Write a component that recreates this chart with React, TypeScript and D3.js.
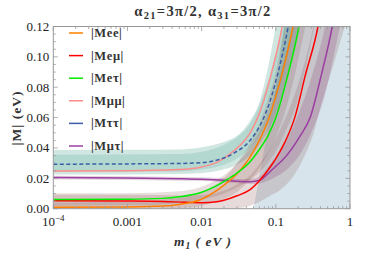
import * as React from "react";
import * as d3 from "d3";

type Pt = [number, number];
type Bd = [number, number, number];

// curves: [m1, |M|]
const meeLine: Pt[] = [[1e-4, 0.001], [1e-3, 0.0012], [0.003, 0.0018], [0.005, 0.0028], [0.01, 0.0062], [0.015, 0.011], [0.02, 0.0155], [0.03, 0.023], [0.045, 0.034], [0.06, 0.045], [0.08, 0.059], [0.1, 0.074], [0.12, 0.088], [0.17, 0.12], [0.2, 0.14]];
const memuLine: Pt[] = [[1e-4, 0.0053], [1e-3, 0.0051], [0.003, 0.0048], [0.006, 0.0042], [0.01, 0.004], [0.016, 0.0046], [0.02, 0.0056], [0.03, 0.0085], [0.045, 0.0125], [0.062, 0.0192], [0.08, 0.026], [0.1, 0.033], [0.13, 0.043], [0.18, 0.06], [0.25, 0.088], [0.37, 0.12], [0.45, 0.145]];
const metauLine: Pt[] = [[1e-4, 0.006], [1e-3, 0.0062], [0.003, 0.0068], [0.005, 0.0078], [0.01, 0.0108], [0.015, 0.0145], [0.02, 0.018], [0.03, 0.0235], [0.045, 0.031], [0.06, 0.039], [0.08, 0.049], [0.1, 0.06], [0.14, 0.085], [0.205, 0.12], [0.25, 0.145]];
const mmumuLine: Pt[] = [[1e-4, 0.0249], [1e-3, 0.025], [0.005, 0.0258], [0.01, 0.0275], [0.016, 0.0305], [0.027, 0.038], [0.045, 0.05], [0.057, 0.06], [0.085, 0.087], [0.122, 0.12], [0.15, 0.145]];
const mtautauLine: Pt[] = [[1e-4, 0.0293], [1e-3, 0.0295], [0.005, 0.0298], [0.01, 0.0303], [0.016, 0.032], [0.027, 0.0365], [0.045, 0.045], [0.066, 0.058], [0.08, 0.068], [0.1, 0.084], [0.147, 0.12], [0.18, 0.145]];
const mmutauLine: Pt[] = [[1e-4, 0.0205], [1e-3, 0.0203], [0.005, 0.0198], [0.01, 0.0194], [0.02, 0.0187], [0.03, 0.0181], [0.045, 0.0178], [0.062, 0.019], [0.08, 0.0235], [0.1, 0.028], [0.126, 0.0325], [0.21, 0.0475], [0.29, 0.06], [0.41, 0.088], [0.576, 0.12], [0.7, 0.145]];

// shaded ranges: [m1, low, high]
const tautauBand: Bd[] = [[1e-4, 0.0225, 0.0387], [1e-3, 0.0225, 0.0388], [0.005, 0.0228, 0.039], [0.01, 0.0235, 0.0405], [0.02, 0.026, 0.044], [0.03, 0.029, 0.048], [0.045, 0.035, 0.058], [0.06, 0.042, 0.07], [0.08, 0.052, 0.095], [0.1, 0.063, 0.12], [0.15, 0.09, 0.17], [0.2, 0.12, 0.22]];
const mumuBand: Bd[] = [[1e-4, 0.0243, 0.0355], [0.005, 0.0245, 0.036], [0.01, 0.0258, 0.0375], [0.02, 0.029, 0.042], [0.03, 0.033, 0.047], [0.045, 0.04, 0.056], [0.06, 0.048, 0.068], [0.08, 0.06, 0.085], [0.1, 0.072, 0.102], [0.125, 0.088, 0.12], [0.16, 0.11, 0.15], [0.18, 0.12, 0.17]];
const eeBand: Bd[] = [[1e-4, 0, 0.004], [1e-3, 0, 0.0045], [0.005, 0.0005, 0.007], [0.01, 0.002, 0.011], [0.02, 0.0065, 0.02], [0.03, 0.011, 0.03], [0.045, 0.019, 0.043], [0.06, 0.027, 0.056], [0.08, 0.037, 0.073], [0.1, 0.047, 0.09], [0.13, 0.062, 0.12], [0.25, 0.12, 0.2]];
const etauBand: Bd[] = [[1e-4, 0.002, 0.0101], [1e-3, 0.0022, 0.0102], [0.005, 0.0035, 0.0115], [0.01, 0.006, 0.0145], [0.02, 0.01, 0.022], [0.03, 0.014, 0.03], [0.045, 0.019, 0.04], [0.06, 0.024, 0.05], [0.08, 0.031, 0.064], [0.1, 0.038, 0.078], [0.15, 0.056, 0.11], [0.17, 0.062, 0.12], [0.33, 0.12, 0.21]];
const emuBand: Bd[] = [[1e-4, 0, 0.0092], [1e-3, 0, 0.0092], [0.005, 0, 0.0088], [0.01, 0, 0.009], [0.02, 0, 0.012], [0.03, 0.0003, 0.016], [0.045, 0.002, 0.022], [0.061, 0.0046, 0.03], [0.08, 0.008, 0.038], [0.114, 0.0123, 0.052], [0.17, 0.021, 0.072], [0.288, 0.043, 0.11], [0.32, 0.049, 0.12], [0.39, 0.065, 0.14], [0.6, 0.095, 0.2], [0.85, 0.12, 0.26]];
const mutauBand: Bd[] = [[1e-4, 0.0193, 0.0217], [0.01, 0.0182, 0.0207], [0.03, 0.0168, 0.0196], [0.045, 0.0163, 0.0195], [0.062, 0.0168, 0.0215], [0.08, 0.0185, 0.028], [0.1, 0.021, 0.034], [0.15, 0.027, 0.048], [0.2, 0.034, 0.062], [0.3, 0.05, 0.086], [0.46, 0.075, 0.12], [0.6, 0.1, 0.15], [0.73, 0.12, 0.18]];

// left boundary of the blue shaded region: [m1, |M|]
const blueEdge: Pt[] = [[0.05, 0], [0.07, 0.04], [0.1, 0.08], [0.13, 0.12]];

const legendLabels = ["|Mee|", "|Meμ|", "|Meτ|", "|Mμμ|", "|Mττ|", "|Mμτ|"];
const yTicks = [0, 0.02, 0.04, 0.06, 0.08, 0.1, 0.12];
const xTicks = [1e-4, 1e-3, 0.01, 0.1, 1];
const xTickLabels = ["10", "0.001", "0.01", "0.1", "1"];

const SERIF = "'Liberation Serif', 'Times New Roman', serif";

function drawChart(svgRef: React.RefObject<SVGSVGElement>) {
  const w = 374;
  const h = 254;
  const svg = d3.select(svgRef.current);
  svg.selectAll("*").remove();
  svg.attr("width", w).attr("height", h).style("position", "absolute").style("left", 0).style("top", 0);

  const x = d3.scaleLog().domain([1e-4, 1]).range([53.3, 350]);
  const y = d3.scaleLinear().domain([0, 0.12]).range([208.7, 26.5]);
  const [x0, x1] = x.range();
  const [y0, y1] = y.range();

  svg.append("defs").append("clipPath").attr("id", "plotclip")
    .append("rect").attr("x", x0).attr("y", y1).attr("width", x1 - x0).attr("height", y0 - y1);

  const plot = svg.append("g").attr("clip-path", "url(#plotclip)");

  const line = d3.line<Pt>()
    .x((d) => x(d[0]))
    .y((d) => y(d[1]));

  // blue region: edge, then along the top and right side of the frame
  const bluePts: Pt[] = [...blueEdge, [1, 0.12], [1, 0]];
  plot.append("path").attr("d", line(bluePts)! + "Z").attr("fill", "#d7e4ec");

  const area = d3.area<Bd>()
    .x((d) => x(d[0]))
    .y0((d) => y(d[1]))
    .y1((d) => y(d[2]))
    .curve(d3.curveMonotoneX);

  const bands = [
    { data: tautauBand, fill: "rgba(70,160,140,0.26)" },
    { data: mumuBand, fill: "rgba(70,160,140,0.2)" },
    { data: eeBand, fill: "rgba(140,90,85,0.2)" },
    { data: etauBand, fill: "rgba(140,90,85,0.2)" },
    { data: emuBand, fill: "rgba(140,90,85,0.22)" },
    { data: mutauBand, fill: "rgba(140,60,120,0.22)" },
  ];
  bands.forEach((b) => {
    plot.append("path").attr("d", area(b.data)!).attr("fill", b.fill);
  });

  const curve = d3.line<Pt>()
    .x((d) => x(d[0]))
    .y((d) => y(d[1]))
    .curve(d3.curveMonotoneX);

  const series = [
    { data: mmumuLine, color: "#ff8c8c", dash: null },
    { data: mtautauLine, color: "#3b5ca8", dash: "4,2.5" },
    { data: mmutauLine, color: "#9a3fa0", dash: null },
    { data: memuLine, color: "#ff0000", dash: null },
    { data: meeLine, color: "#ff8000", dash: null },
    { data: metauLine, color: "#00ee00", dash: null },
  ];
  series.forEach((s) => {
    plot.append("path").attr("d", curve(s.data)!)
      .attr("fill", "none").attr("stroke", s.color).attr("stroke-width", 1.5)
      .attr("stroke-dasharray", s.dash);
  });

  // legend
  const legendColors = ["#ff8000", "#ff0000", "#00ee00", "#ff8c8c", "#3b5ca8", "#9a3fa0"];
  const lg = svg.append("g");
  legendLabels.forEach((lab, i) => {
    const ly = 33 + i * 22.6;
    lg.append("line").attr("x1", 69).attr("x2", 83).attr("y1", ly).attr("y2", ly)
      .attr("stroke", legendColors[i]).attr("stroke-width", 1.5);
    lg.append("text").attr("x", 91).attr("y", ly + 4).text(lab)
      .attr("font-family", SERIF).attr("font-weight", "bold").attr("font-size", 12.5)
      .attr("letter-spacing", 0.6).attr("fill", "#333");
  });

  // frame and ticks
  svg.append("rect").attr("x", x0).attr("y", y1).attr("width", x1 - x0).attr("height", y0 - y1)
    .attr("fill", "none").attr("stroke", "#999").attr("stroke-width", 1);

  const tk = svg.append("g").attr("stroke", "#999").attr("stroke-width", 0.8);
  const yMinor = d3.range(0, 0.1201, 0.005);
  yMinor.forEach((v) => {
    const major = yTicks.some((t) => Math.abs(t - v) < 1e-9);
    const len = major ? 4.5 : 2.5;
    tk.append("line").attr("x1", x0).attr("x2", x0 + len).attr("y1", y(v)).attr("y2", y(v));
    tk.append("line").attr("x1", x1).attr("x2", x1 - len).attr("y1", y(v)).attr("y2", y(v));
  });
  const xMinor: number[] = [];
  for (let e = -4; e < 0; e++) for (let k = 1; k < 10; k++) xMinor.push(k * Math.pow(10, e));
  xMinor.push(1);
  xMinor.forEach((m) => {
    const major = xTicks.some((t) => Math.abs(t - m) < 1e-12);
    const len = major ? 4.5 : 2.5;
    tk.append("line").attr("x1", x(m)).attr("x2", x(m)).attr("y1", y0).attr("y2", y0 - len);
    tk.append("line").attr("x1", x(m)).attr("x2", x(m)).attr("y1", y1).attr("y2", y1 + len);
  });

  // tick labels
  const lab = svg.append("g").attr("font-family", SERIF).attr("font-size", 13).attr("fill", "#222");
  yTicks.forEach((v) => {
    lab.append("text").attr("x", x0 - 4).attr("y", y(v) + 4.5).attr("text-anchor", "end").text(v.toFixed(2));
  });
  xTicks.forEach((m, i) => {
    const t = lab.append("text").attr("x", x(m)).attr("y", y0 + 17).attr("text-anchor", "middle");
    if (i === 0) {
      t.append("tspan").text(xTickLabels[i]);
      t.append("tspan").attr("dy", -5).attr("font-size", 9).text("−4");
    } else {
      t.text(xTickLabels[i]);
    }
  });

  // title
  const title = svg.append("text").attr("x", 203).attr("y", 16).attr("text-anchor", "middle")
    .attr("font-family", SERIF).attr("font-weight", "bold").attr("font-size", 14.5).attr("fill", "#333")
    .attr("letter-spacing", 1.3);
  title.append("tspan").text("α");
  title.append("tspan").attr("dy", 3).attr("font-size", 10.5).text("21");
  title.append("tspan").attr("dy", -3).text("=3π/2, α");
  title.append("tspan").attr("dy", 3).attr("font-size", 10.5).text("31");
  title.append("tspan").attr("dy", -3).text("=3π/2");

  // axis titles
  svg.append("text").attr("transform", "translate(21,118) rotate(-90)").attr("text-anchor", "middle")
    .attr("font-family", SERIF).attr("font-weight", "bold").attr("font-size", 13.5).attr("fill", "#333")
    .attr("letter-spacing", 1).text("|M| (eV)");

  const xt = svg.append("text").attr("x", 203).attr("y", 246).attr("text-anchor", "middle")
    .attr("font-family", SERIF).attr("font-weight", "bold").attr("font-style", "italic")
    .attr("font-size", 13.5).attr("fill", "#333").attr("letter-spacing", 1);
  xt.append("tspan").text("m");
  xt.append("tspan").attr("dy", 3).attr("font-size", 9.5).text("1");
  xt.append("tspan").attr("dy", -3).text(" ( eV )");
}

const App: React.FunctionComponent = () => {
  const svg = React.useRef<SVGSVGElement>(null);
  React.useEffect(() => {
    drawChart(svg);
  }, [svg]);

  return (
    <div id="chart">
      <svg ref={svg} />
    </div>
  );
};

export default App;
